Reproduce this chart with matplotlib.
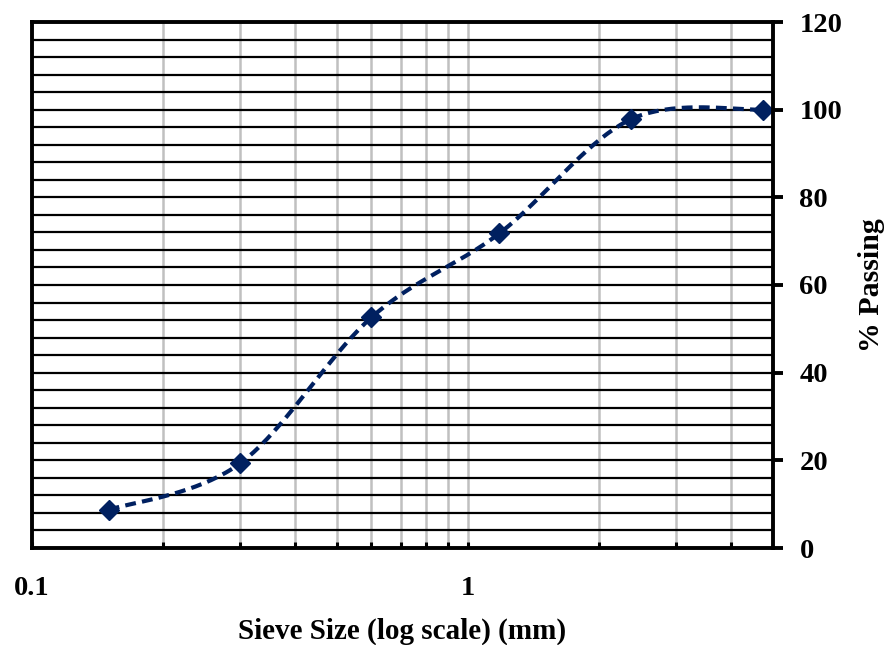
import numpy as np
import matplotlib.pyplot as plt
from matplotlib.ticker import FixedLocator, NullFormatter, FixedFormatter

sieve_mm = [0.15, 0.3, 0.6, 1.18, 2.36, 4.75]
passing = [8.7, 19.3, 52.6, 71.8, 97.8, 100.0]

navy = '#002060'


def smooth(xs, ys, n=40):
    # Excel-like smoothed line: Catmull-Rom in (log x, y) space
    px = np.log10(np.asarray(xs, float))
    py = np.asarray(ys, float)
    px = np.concatenate([[px[0]], px, [px[-1]]])
    py = np.concatenate([[py[0]], py, [py[-1]]])
    out_x, out_y = [], []
    t = np.linspace(0, 1, n)
    for i in range(1, len(px) - 2):
        x0, x1, x2, x3 = px[i - 1:i + 3]
        y0, y1, y2, y3 = py[i - 1:i + 3]
        bx = [x1, x1 + (x2 - x0) / 6, x2 - (x3 - x1) / 6, x2]
        by = [y1, y1 + (y2 - y0) / 6, y2 - (y3 - y1) / 6, y2]
        cx = ((1 - t) ** 3 * bx[0] + 3 * (1 - t) ** 2 * t * bx[1]
              + 3 * (1 - t) * t ** 2 * bx[2] + t ** 3 * bx[3])
        cy = ((1 - t) ** 3 * by[0] + 3 * (1 - t) ** 2 * t * by[1]
              + 3 * (1 - t) * t ** 2 * by[2] + t ** 3 * by[3])
        out_x.extend(cx)
        out_y.extend(cy)
    return 10 ** np.array(out_x), np.array(out_y)


plt.rcParams['font.family'] = ['Liberation Serif', 'DejaVu Serif']

fig = plt.figure(figsize=(8.88, 6.45), dpi=100)
ax = fig.add_axes([32 / 888, 97 / 645, 741 / 888, 526 / 645])

ax.set_xscale('log')
ax.set_xlim(0.1, 5)
ax.set_ylim(0, 120)

# grid
for v in [0.2, 0.3, 0.4, 0.5, 0.6, 0.7, 0.8, 0.9, 1, 2, 3, 4]:
    ax.axvline(v, color='#c0c0c0', lw=1.8, zorder=1)
for h in range(4, 120, 4):
    ax.axhline(h, color='black', lw=1.6, zorder=1)

sx, sy = smooth(sieve_mm, passing)
ax.plot(sx, sy, color=navy, lw=3.0, dashes=(2.6, 1.5), zorder=3)
ax.plot(sieve_mm, passing, linestyle='none', marker='D', ms=10,
        color=navy, zorder=4)

for s in ax.spines.values():
    s.set_linewidth(2.8)
    s.set_zorder(5)

# x axis
ax.xaxis.set_major_locator(FixedLocator([0.1, 1]))
ax.xaxis.set_major_formatter(FixedFormatter(['0.1', '1']))
ax.xaxis.set_minor_locator(FixedLocator([0.2, 0.3, 0.4, 0.5, 0.6, 0.7, 0.8, 0.9, 2, 3, 4]))
ax.xaxis.set_minor_formatter(NullFormatter())
ax.tick_params(axis='x', which='both', direction='in', length=4, width=2.2,
               pad=20, labelsize=20.5)
for lbl in ax.get_xticklabels():
    lbl.set_fontweight('bold')

# y axis on the right
ax.yaxis.tick_right()
ax.yaxis.set_label_position('right')
ax.set_yticks(range(0, 121, 20))
ax.tick_params(axis='y', which='major', direction='out', length=7, width=2.8,
               pad=12, labelsize=20.5)
for lbl in ax.get_yticklabels():
    lbl.set_fontweight('bold')

ax.set_xlabel('Sieve Size (log scale) (mm)', fontsize=21, fontweight='bold',
              labelpad=12)
ax.set_ylabel('% Passing', fontsize=21.5, fontweight='bold', labelpad=11)

fig.savefig('out.png', dpi=100)
